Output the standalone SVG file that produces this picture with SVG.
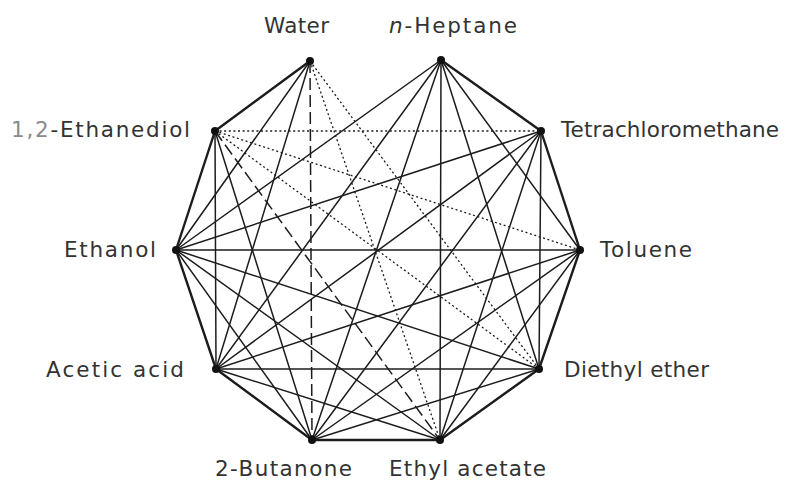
<svg xmlns="http://www.w3.org/2000/svg" width="786" height="483" viewBox="0 0 786 483">
<style>
.bg{fill:#ffffff}
.c line{stroke:#1c1c1c;stroke-linecap:round;fill:none}
.o{stroke-width:2.4}
.s{stroke-width:1.5}
.d{stroke-width:1.3;stroke-dasharray:2 2.6;stroke-linecap:butt !important}
.k{stroke-width:1.5;stroke-dasharray:12 5;stroke-linecap:butt !important}
.n circle{fill:#111}
.n text{font-family:"DejaVu Sans","Liberation Sans",sans-serif;font-size:21.5px;fill:#333}
</style>
<rect class="bg" x="0" y="0" width="786" height="483"/>
<g id="connectors" class="c">
<!-- outer edges -->
<line class="o" x1="310" y1="61" x2="215" y2="131"/>
<line class="o" x1="215" y1="131" x2="176" y2="250"/>
<line class="o" x1="176" y1="250" x2="216" y2="369"/>
<line class="o" x1="216" y1="369" x2="312" y2="440"/>
<line class="o" x1="312" y1="440" x2="440" y2="440"/>
<line class="o" x1="440" y1="440" x2="539" y2="369"/>
<line class="o" x1="539" y1="369" x2="580" y2="250"/>
<line class="o" x1="580" y1="250" x2="541" y2="131"/>
<line class="o" x1="541" y1="131" x2="441" y2="60"/>
<!-- dotted -->
<line class="d" x1="310" y1="61" x2="539" y2="369"/>
<line class="d" x1="310" y1="61" x2="440" y2="440"/>
<line class="d" x1="215" y1="131" x2="580" y2="250"/>
<line class="d" x1="215" y1="131" x2="539" y2="369"/>
<line class="d" x1="215" y1="131" x2="541" y2="131"/>
<!-- dashed -->
<line class="k" x1="310" y1="61" x2="312" y2="440"/>
<line class="k" x1="215" y1="131" x2="440" y2="440"/>
<!-- solid inner -->
<line class="s" x1="310" y1="61" x2="216" y2="369"/>
<line class="s" x1="310" y1="61" x2="176" y2="250"/>
<line class="s" x1="441" y1="60" x2="580" y2="250"/>
<line class="s" x1="441" y1="60" x2="539" y2="369"/>
<line class="s" x1="441" y1="60" x2="440" y2="440"/>
<line class="s" x1="441" y1="60" x2="312" y2="440"/>
<line class="s" x1="441" y1="60" x2="216" y2="369"/>
<line class="s" x1="441" y1="60" x2="176" y2="250"/>
<line class="s" x1="541" y1="131" x2="539" y2="369"/>
<line class="s" x1="541" y1="131" x2="440" y2="440"/>
<line class="s" x1="541" y1="131" x2="312" y2="440"/>
<line class="s" x1="541" y1="131" x2="216" y2="369"/>
<line class="s" x1="541" y1="131" x2="176" y2="250"/>
<line class="s" x1="580" y1="250" x2="440" y2="440"/>
<line class="s" x1="580" y1="250" x2="312" y2="440"/>
<line class="s" x1="580" y1="250" x2="216" y2="369"/>
<line class="s" x1="580" y1="250" x2="176" y2="250"/>
<line class="s" x1="539" y1="369" x2="312" y2="440"/>
<line class="s" x1="539" y1="369" x2="216" y2="369"/>
<line class="s" x1="539" y1="369" x2="176" y2="250"/>
<line class="s" x1="440" y1="440" x2="216" y2="369"/>
<line class="s" x1="440" y1="440" x2="176" y2="250"/>
<line class="s" x1="312" y1="440" x2="176" y2="250"/>
<line class="s" x1="215" y1="131" x2="216" y2="369"/>
<line class="s" x1="215" y1="131" x2="312" y2="440"/>
</g>
<g id="water" class="n"><circle cx="310" cy="61" r="4"/><text x="264" y="33" textLength="65">Water</text></g>
<g id="n-heptane" class="n"><circle cx="441" cy="60" r="4"/><text x="389" y="33" textLength="128"><tspan font-style="italic">n</tspan>-Heptane</text></g>
<g id="tetrachloromethane" class="n"><circle cx="541" cy="131" r="4"/><text x="561" y="137" textLength="218">Tetrachloromethane</text></g>
<g id="toluene" class="n"><circle cx="580" cy="250" r="4"/><text x="600" y="257" textLength="92">Toluene</text></g>
<g id="diethyl-ether" class="n"><circle cx="539" cy="369" r="4"/><text x="564" y="377" textLength="145">Diethyl ether</text></g>
<g id="ethyl-acetate" class="n"><circle cx="440" cy="440" r="4"/><text x="389" y="476" textLength="157">Ethyl acetate</text></g>
<g id="2-butanone" class="n"><circle cx="312" cy="440" r="4"/><text x="215" y="476" textLength="137">2-Butanone</text></g>
<g id="acetic-acid" class="n"><circle cx="216" cy="369" r="4"/><text x="46" y="377" textLength="138">Acetic acid</text></g>
<g id="ethanol" class="n"><circle cx="176" cy="250" r="4"/><text x="64" y="257" textLength="92">Ethanol</text></g>
<g id="ethanediol" class="n"><circle cx="215" cy="131" r="4"/><text x="11" y="137" textLength="179"><tspan fill="#8a8a8a">1,2</tspan>-Ethanediol</text></g>
</svg>
